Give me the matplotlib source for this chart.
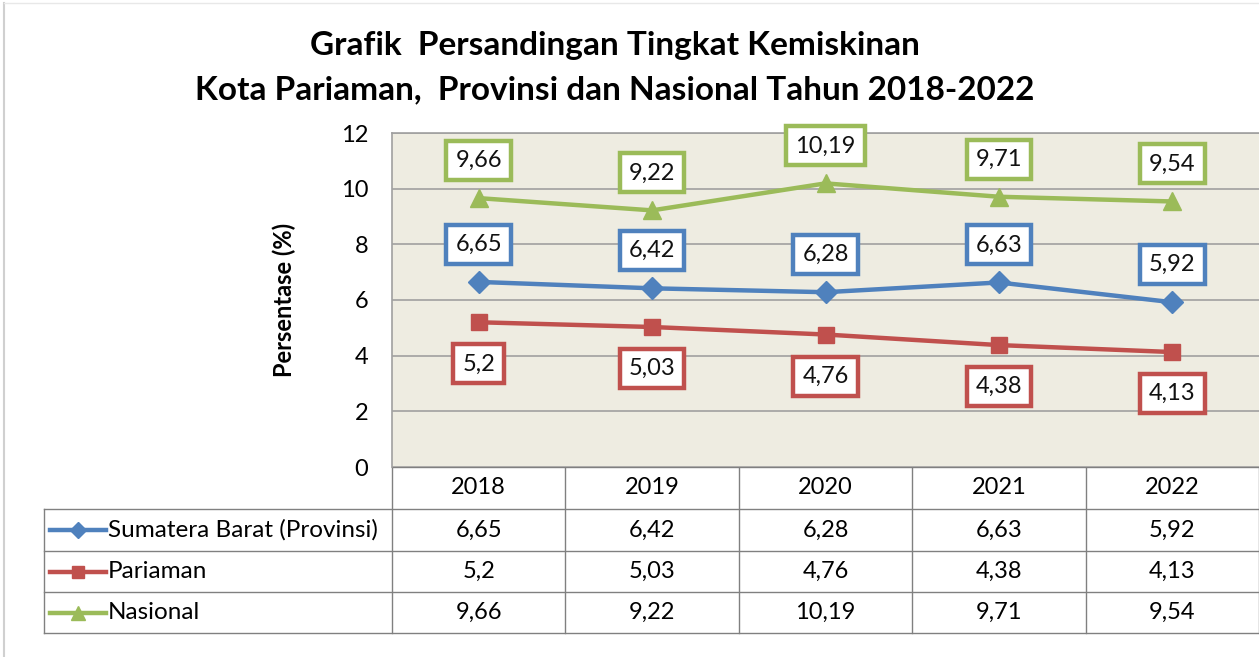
import matplotlib
matplotlib.use("Agg")
import matplotlib.pyplot as plt

years = ["2018", "2019", "2020", "2021", "2022"]
series_names = ["Sumatera Barat (Provinsi)", "Pariaman", "Nasional"]
sumbar = [6.65, 6.42, 6.28, 6.63, 5.92]
pariaman = [5.2, 5.03, 4.76, 4.38, 4.13]
nasional = [9.66, 9.22, 10.19, 9.71, 9.54]
yticks = [0, 2, 4, 6, 8, 10, 12]

colors = ["#4F81BD", "#C0504D", "#9BBB59"]
markers = ["D", "s", "^"]
msizes = [11, 12, 13]
label_offsets = [27, -30, 27]  # points

def fmt(v):
    s = ("%g" % v)
    return s.replace(".", ",")

FONT = "Lato"
plt.rcParams["font.family"] = [FONT, "DejaVu Sans"]

W, H = 1259, 657
fig = plt.figure(figsize=(W / 100, H / 100), dpi=100)
fig.patch.set_facecolor("white")

# pixel-space overlay
ov = fig.add_axes([0, 0, 1, 1], zorder=0)
ov.set_xlim(0, W)
ov.set_ylim(H, 0)
ov.axis("off")

px_l, px_r, px_t, px_b = 392, 1259, 133, 467
ax = fig.add_axes([px_l / W, 1 - px_b / H, (px_r - px_l) / W, (px_b - px_t) / H], zorder=2)
ax.set_facecolor("#EEECE1")
ax.set_xlim(-0.5, len(years) - 0.5)
ax.set_ylim(0, 12)
ax.set_yticks(yticks)
ax.set_yticklabels([str(t) for t in yticks], fontsize=17)
ax.tick_params(axis="y", length=0, pad=17)
ax.set_xticks([])
ax.grid(axis="y", color="#A0A0A0", linewidth=1.2)
ax.set_axisbelow(True)
for s in ["right", "bottom"]:
    ax.spines[s].set_visible(False)
for s in ["left", "top"]:
    ax.spines[s].set_color("#A0A0A0")
    ax.spines[s].set_linewidth(1.2)
ax.set_ylabel("Persentase (%)", fontsize=17, fontweight="bold", labelpad=32)

all_series = [sumbar, pariaman, nasional]
x = list(range(len(years)))
for vals, c, m, ms, off in zip(all_series, colors, markers, msizes, label_offsets):
    ax.plot(x, vals, color=c, linewidth=3.2, marker=m, markersize=ms, zorder=3, clip_on=False)
    for xi, v in zip(x, vals):
        ax.annotate(fmt(v), (xi, v), xytext=(0, off), textcoords="offset points",
                    ha="center", va="center", fontsize=17, color="#111111", zorder=5,
                    bbox=dict(boxstyle="square,pad=0.38", fc="white", ec=c, lw=3.2))

# title
fig.text(615 / W, 1 - 45 / H, "Grafik  Persandingan Tingkat Kemiskinan", ha="center", va="center",
         fontsize=24, fontweight="bold")
fig.text(615 / W, 1 - 90 / H, "Kota Pariaman,  Provinsi dan Nasional Tahun 2018-2022", ha="center",
         va="center", fontsize=24, fontweight="bold")

# data table
fig.canvas.draw()
def col_px(xv):
    disp = ax.transData.transform((xv, 0))
    return ov.transData.inverted().transform(disp)[0]

edges = [col_px(i - 0.5) for i in range(len(years) + 1)]
centers = [col_px(i) for i in range(len(years))]
tab_left = 44
rows_y = [467, 509, 551, 592, 633]
lc = "#808080"
lw = 1.0
ov.plot([edges[0], edges[-1]], [rows_y[0]] * 2, color=lc, lw=lw)
for yy in rows_y[1:]:
    ov.plot([tab_left, edges[-1]], [yy, yy], color=lc, lw=lw)
for ex in edges:
    ov.plot([ex, ex], [rows_y[0], rows_y[-1]], color=lc, lw=lw)
ov.plot([tab_left, tab_left], [rows_y[1], rows_y[-1]], color=lc, lw=lw)

for cx, yr in zip(centers, years):
    ov.text(cx, (rows_y[0] + rows_y[1]) / 2, yr, ha="center", va="center", fontsize=17)
for r, (name, vals, c, m, ms) in enumerate(zip(series_names, all_series, colors, markers, msizes)):
    yc = (rows_y[r + 1] + rows_y[r + 2]) / 2
    ov.plot([50, 106], [yc, yc], color=c, lw=3.2)
    ov.plot([78], [yc], marker=m, color=c, markersize=ms * 0.75)
    ov.text(108, yc, name, ha="left", va="center", fontsize=17.5)
    for cx, v in zip(centers, vals):
        ov.text(cx, yc, fmt(v), ha="center", va="center", fontsize=17)

# faint chart border
ov.plot([4, 4], [3, H], color="#D0D0D0", lw=1.5)
ov.plot([4, W], [3, 3], color="#E8E8E8", lw=1.0)

fig.savefig("out.png", dpi=100, facecolor="white")
